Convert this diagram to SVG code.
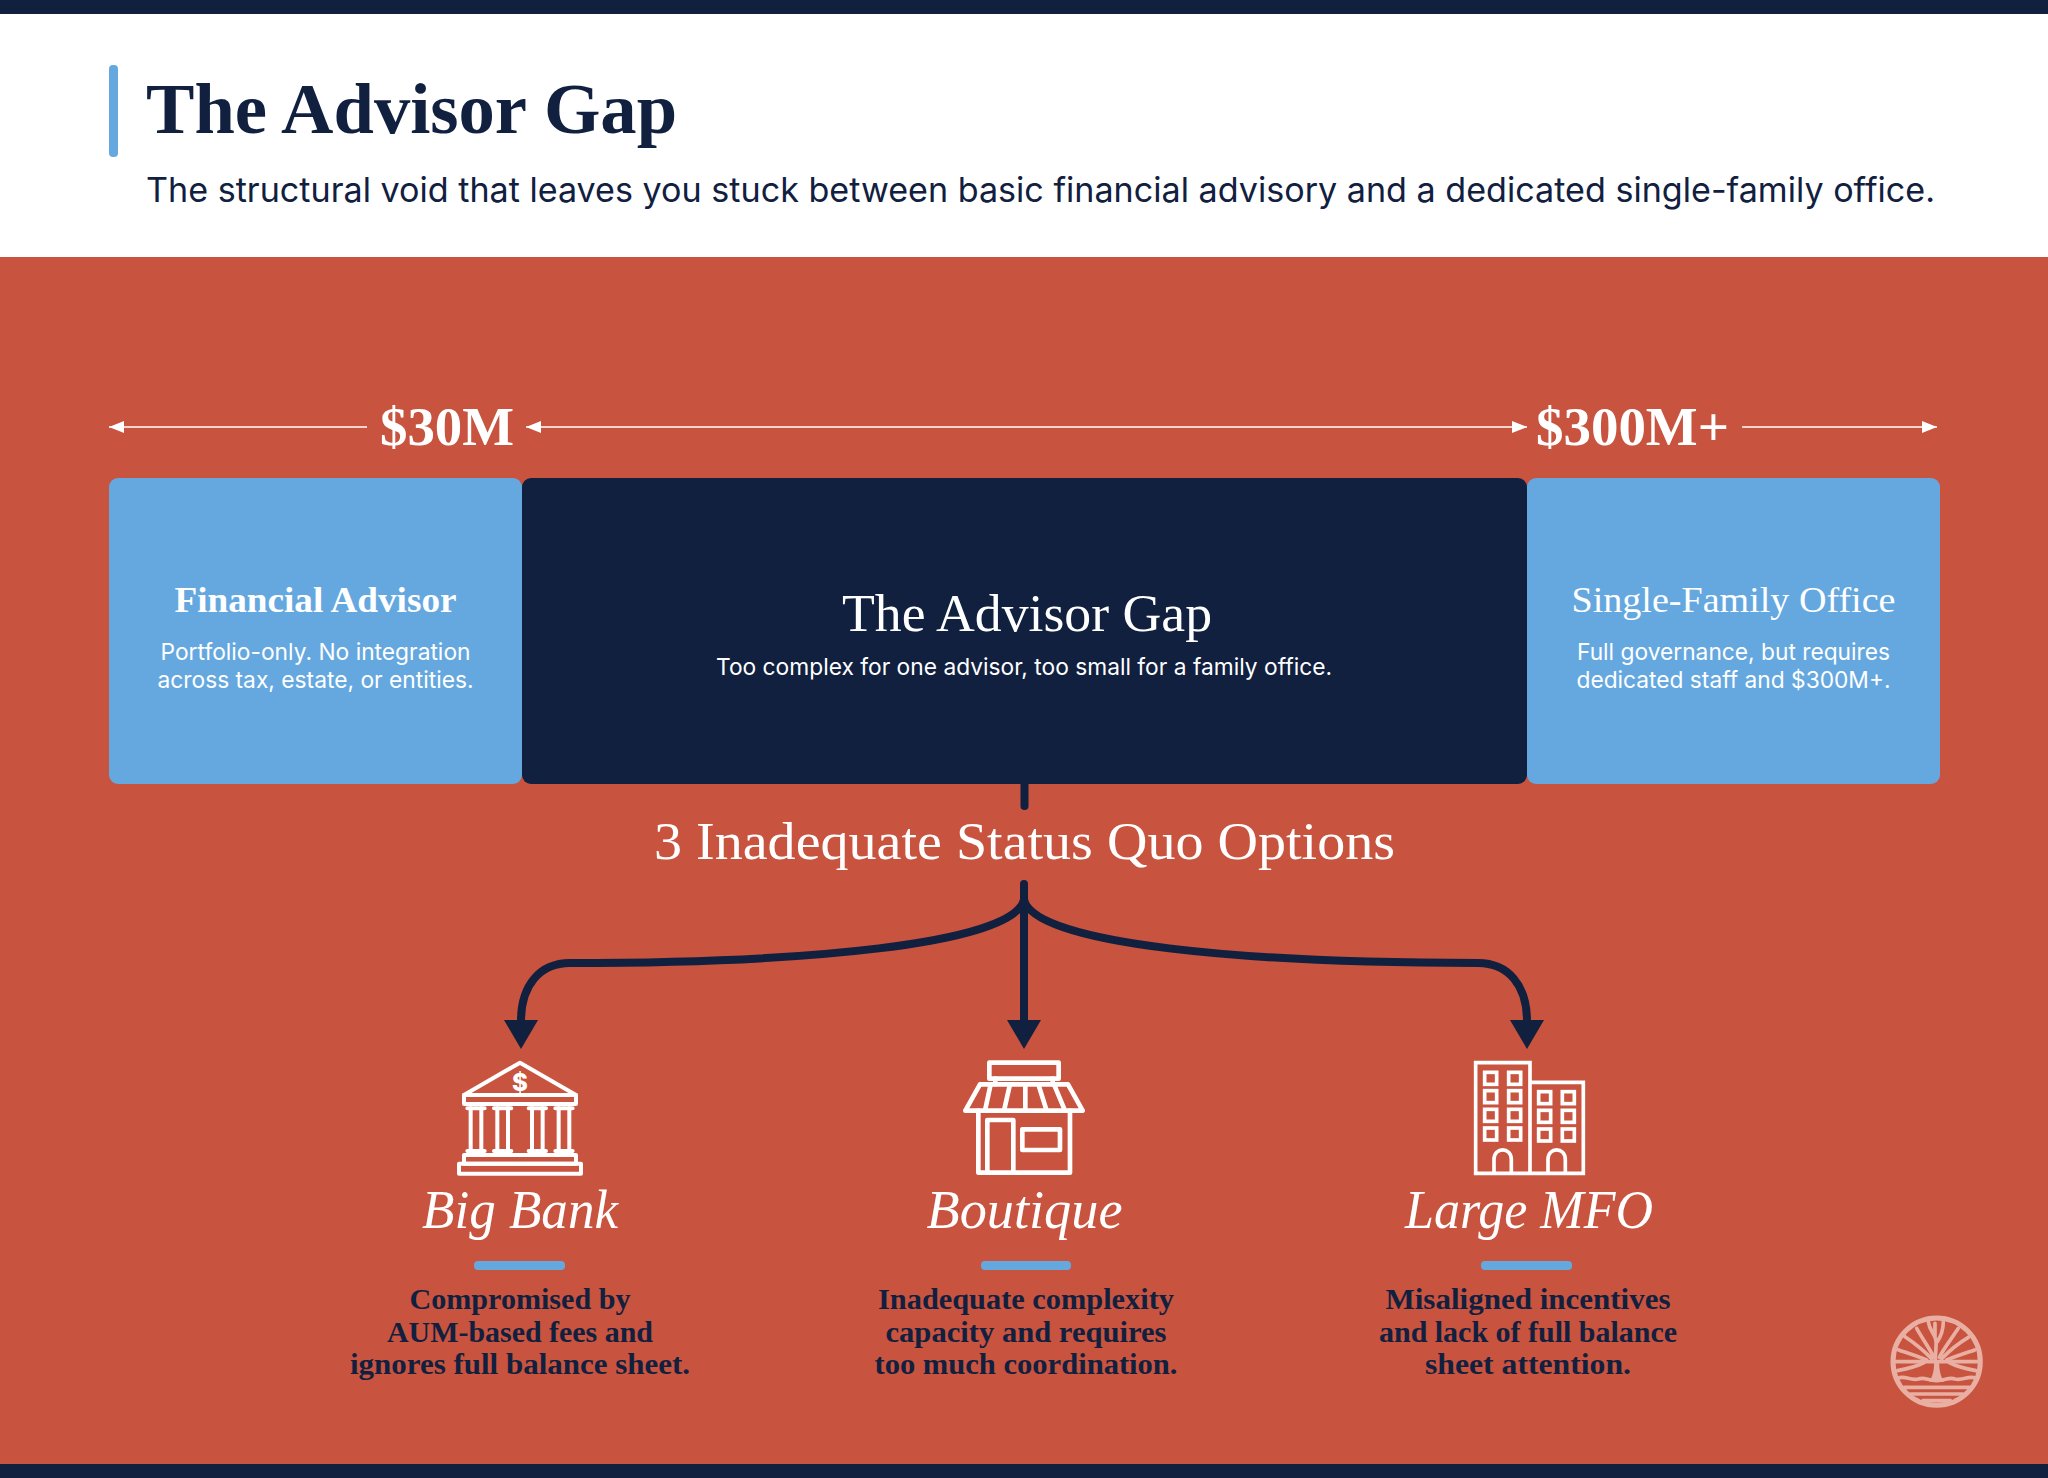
<svg xmlns="http://www.w3.org/2000/svg" width="2048" height="1478" viewBox="0 0 2048 1478">
<style>
.sf{font-family:"Liberation Serif","DejaVu Serif",serif}
.sn{font-family:Inter,"Liberation Sans",sans-serif}
.m{text-anchor:middle}
.w{fill:#fff}
.n{fill:#11203F}
.box{font-size:36px}
.small{font-size:23px;fill:#fff}
.amt{font-size:54px;font-weight:700;fill:#fff}
.opt{font-size:54px;font-style:italic;fill:#fff}
.desc{font-size:30px;font-weight:700;fill:#11203F}
.ic{fill:none;stroke:#fff;stroke-width:14;stroke-linejoin:round;stroke-linecap:round}
.lg{fill:none;stroke:#E9AFA3;stroke-width:11;stroke-linecap:round;stroke-linejoin:round}
.dim{stroke:#fff;stroke-width:1.4;fill:none}
.flow{stroke:#11203F;stroke-width:8;fill:none;stroke-linecap:round}
.bar{fill:#65A8E0}
</style>
<defs>
<marker id="wh" markerUnits="userSpaceOnUse" markerWidth="16" markerHeight="12" refX="15" refY="6" orient="auto-start-reverse"><path d="M0 0L15 6L0 12Z" fill="#fff"/></marker>
<marker id="nh" markerUnits="userSpaceOnUse" markerWidth="31" markerHeight="36" refX="1" refY="17" orient="auto"><path d="M0 0V34L29 17Z" fill="#11203F"/></marker>
</defs>
<rect width="2048" height="1478" fill="#fff"/>
<rect y="257" width="2048" height="1207" fill="#C8533E"/>
<rect width="2048" height="14" fill="#11203F"/>
<rect y="1464" width="2048" height="14" fill="#11203F"/>
<g id="header">
<rect x="109" y="65" width="9" height="92" rx="4" fill="#65A8E0"/>
<text class="sf n" x="146" y="133" font-size="71" font-weight="700" textLength="531" lengthAdjust="spacingAndGlyphs">The Advisor Gap</text>
<text class="sn n" x="146" y="202" font-size="34" textLength="1789" lengthAdjust="spacingAndGlyphs">The structural void that leaves you stuck between basic financial advisory and a dedicated single-family office.</text>
</g>
<g id="connectors">
<path class="dim" d="M367 427H109" marker-end="url(#wh)"/>
<path class="dim" d="M526 427H1527" marker-start="url(#wh)" marker-end="url(#wh)"/>
<path class="dim" d="M1742 427H1937" marker-end="url(#wh)"/>
<path class="flow" d="M1024.500 784V806"/>
<path class="flow" d="M1024 884V1021" marker-end="url(#nh)"/>
<path class="flow" d="M1024 900C1012 945 800 963 570 963C540 963 521 985 521 1021" marker-end="url(#nh)"/>
<path class="flow" d="M1024 900C1036 945 1248 963 1478 963C1508 963 1527 985 1527 1021" marker-end="url(#nh)"/>
</g>
<g id="amount-30m"><text class="sf amt" x="380" y="445" textLength="134" lengthAdjust="spacingAndGlyphs">$30M</text></g>
<g id="amount-300m"><text class="sf amt" x="1536" y="445" textLength="193" lengthAdjust="spacingAndGlyphs">$300M+</text></g>
<g id="financial-advisor">
<rect x="109" y="478" width="413" height="306" rx="9" fill="#65A8E0"/>
<text class="sf w m box" x="315.500" y="612" font-weight="700" textLength="282" lengthAdjust="spacingAndGlyphs">Financial Advisor</text>
<text class="sn small m" x="315.500" y="660" textLength="310" lengthAdjust="spacingAndGlyphs">Portfolio-only. No integration</text>
<text class="sn small m" x="315.500" y="688" textLength="316" lengthAdjust="spacingAndGlyphs">across tax, estate, or entities.</text>
</g>
<g id="advisor-gap">
<rect x="522" y="478" width="1005" height="306" rx="9" fill="#11203F"/>
<text class="sf w m" x="1027" y="631" font-size="53" textLength="370" lengthAdjust="spacingAndGlyphs">The Advisor Gap</text>
<text class="sn small m" x="1024" y="675" textLength="616" lengthAdjust="spacingAndGlyphs">Too complex for one advisor, too small for a family office.</text>
</g>
<g id="single-family-office">
<rect x="1527" y="478" width="413" height="306" rx="9" fill="#65A8E0"/>
<text class="sf w m box" x="1733.500" y="612" textLength="324" lengthAdjust="spacingAndGlyphs">Single-Family Office</text>
<text class="sn small m" x="1733.500" y="660" textLength="313" lengthAdjust="spacingAndGlyphs">Full governance, but requires</text>
<text class="sn small m" x="1733.500" y="688" textLength="314" lengthAdjust="spacingAndGlyphs">dedicated staff and $300M+.</text>
</g>
<g id="options-title"><text class="sf w m" x="1024.500" y="859" font-size="53" textLength="741" lengthAdjust="spacingAndGlyphs">3 Inadequate Status Quo Options</text></g>
<g id="big-bank">
<g transform="translate(420 1040) scale(.3333)" class="ic" style="stroke-width:12">
<path d="M132 165L300 68L468 165V192H132Z"/>
<path d="M132 165H468"/>
<path d="M142 205H194M222 205H274M326 205H378M406 205H458M142 333H194M222 333H274M326 333H378M406 333H458"/>
<path d="M152 205V333M184 205V333M232 205V333M264 205V333M336 205V333M368 205V333M416 205V333M448 205V333"/>
<rect x="132" y="345" width="336" height="26"/>
<rect x="117" y="371" width="366" height="30"/>
</g>
<text class="sn w m" x="520" y="1091" font-size="24" font-weight="800">$</text>
<text class="sf opt m" x="520" y="1228" textLength="196" lengthAdjust="spacingAndGlyphs">Big Bank</text>
<rect class="bar" x="474" y="1261" width="91" height="9" rx="4"/>
<text class="sf desc m" x="520" y="1309" textLength="221" lengthAdjust="spacingAndGlyphs">Compromised by</text>
<text class="sf desc m" x="520" y="1342" textLength="266" lengthAdjust="spacingAndGlyphs">AUM-based fees and</text>
<text class="sf desc m" x="520" y="1374" textLength="340" lengthAdjust="spacingAndGlyphs">ignores full balance sheet.</text>
</g>
<g id="boutique">
<g transform="translate(930 1040) scale(.3333)" class="ic">
<rect x="178" y="68" width="208" height="48"/>
<path d="M196 116V133M368 116V133"/>
<path d="M150 133H414L458 212H106Z"/>
<path d="M182 133L165 212M240 133L222 212M286 133V212M325 133L350 212M372 133L405 212"/>
<path d="M145 212V398H420V212"/>
<path d="M172 398V240H250V398"/>
<rect x="277" y="268" width="113" height="62"/>
</g>
<text class="sf opt m" x="1024.500" y="1228" textLength="196" lengthAdjust="spacingAndGlyphs">Boutique</text>
<rect class="bar" x="981" y="1261" width="90" height="9" rx="4"/>
<text class="sf desc m" x="1026" y="1309" textLength="296" lengthAdjust="spacingAndGlyphs">Inadequate complexity</text>
<text class="sf desc m" x="1026" y="1342" textLength="281" lengthAdjust="spacingAndGlyphs">capacity and requires</text>
<text class="sf desc m" x="1026" y="1374" textLength="303" lengthAdjust="spacingAndGlyphs">too much coordination.</text>
</g>
<g id="large-mfo">
<g transform="translate(1430 1040) scale(.3333)" class="ic" style="stroke-width:11;stroke-linecap:butt;stroke-linejoin:miter">
<path d="M300 400H137V68H300V400H460V127H300"/>
<path d="M192 398V358C192 320 244 320 244 358V398M354 398V358C354 320 406 320 406 358V398"/>
<rect x="164" y="97" width="36" height="36"/><rect x="236" y="97" width="36" height="36"/>
<rect x="164" y="152" width="36" height="36"/><rect x="236" y="152" width="36" height="36"/>
<rect x="164" y="208" width="36" height="36"/><rect x="236" y="208" width="36" height="36"/>
<rect x="164" y="264" width="36" height="36"/><rect x="236" y="264" width="36" height="36"/>
<rect x="326" y="155" width="36" height="36"/><rect x="397" y="155" width="36" height="36"/>
<rect x="326" y="211" width="36" height="36"/><rect x="397" y="211" width="36" height="36"/>
<rect x="326" y="267" width="36" height="36"/><rect x="397" y="267" width="36" height="36"/>
</g>
<text class="sf opt m" x="1529" y="1228" textLength="248" lengthAdjust="spacingAndGlyphs">Large MFO</text>
<rect class="bar" x="1481" y="1261" width="91" height="9" rx="4"/>
<text class="sf desc m" x="1528" y="1309" textLength="285" lengthAdjust="spacingAndGlyphs">Misaligned incentives</text>
<text class="sf desc m" x="1528" y="1342" textLength="298" lengthAdjust="spacingAndGlyphs">and lack of full balance</text>
<text class="sf desc m" x="1528" y="1374" textLength="206" lengthAdjust="spacingAndGlyphs">sheet attention.</text>
</g>
<g id="logo" transform="translate(1860 1300) scale(.3333)">
<circle class="lg" cx="230" cy="185" r="131" style="stroke-width:15"/>
<path class="lg" d="M102 185H358"/>
<path class="lg" d="M226 178C226 150 232 130 226 115C222 100 208 90 205 65M232 125C245 105 250 90 250 65M225 70V110"/>
<path class="lg" d="M222 172C205 140 190 120 170 85M238 172C255 140 272 120 295 85M215 176C190 150 165 130 135 110M245 176C270 150 295 130 325 112M200 180C170 168 145 160 116 150M260 180C290 168 315 160 344 150"/>
<path class="lg" d="M112 212C150 205 170 200 192 188M348 212C310 205 290 200 268 188"/>
<path d="M222 185H238C237 205 240 225 252 245H208C220 225 223 205 222 185Z" fill="#E9AFA3"/>
<path class="lg" d="M112 235C135 225 150 243 175 237C195 230 205 243 230 242C255 243 265 230 285 237C310 243 325 225 348 235"/>
<path class="lg" d="M130 262H330M150 282H310M185 302H275" style="stroke-linecap:butt"/>
</g>
</svg>
